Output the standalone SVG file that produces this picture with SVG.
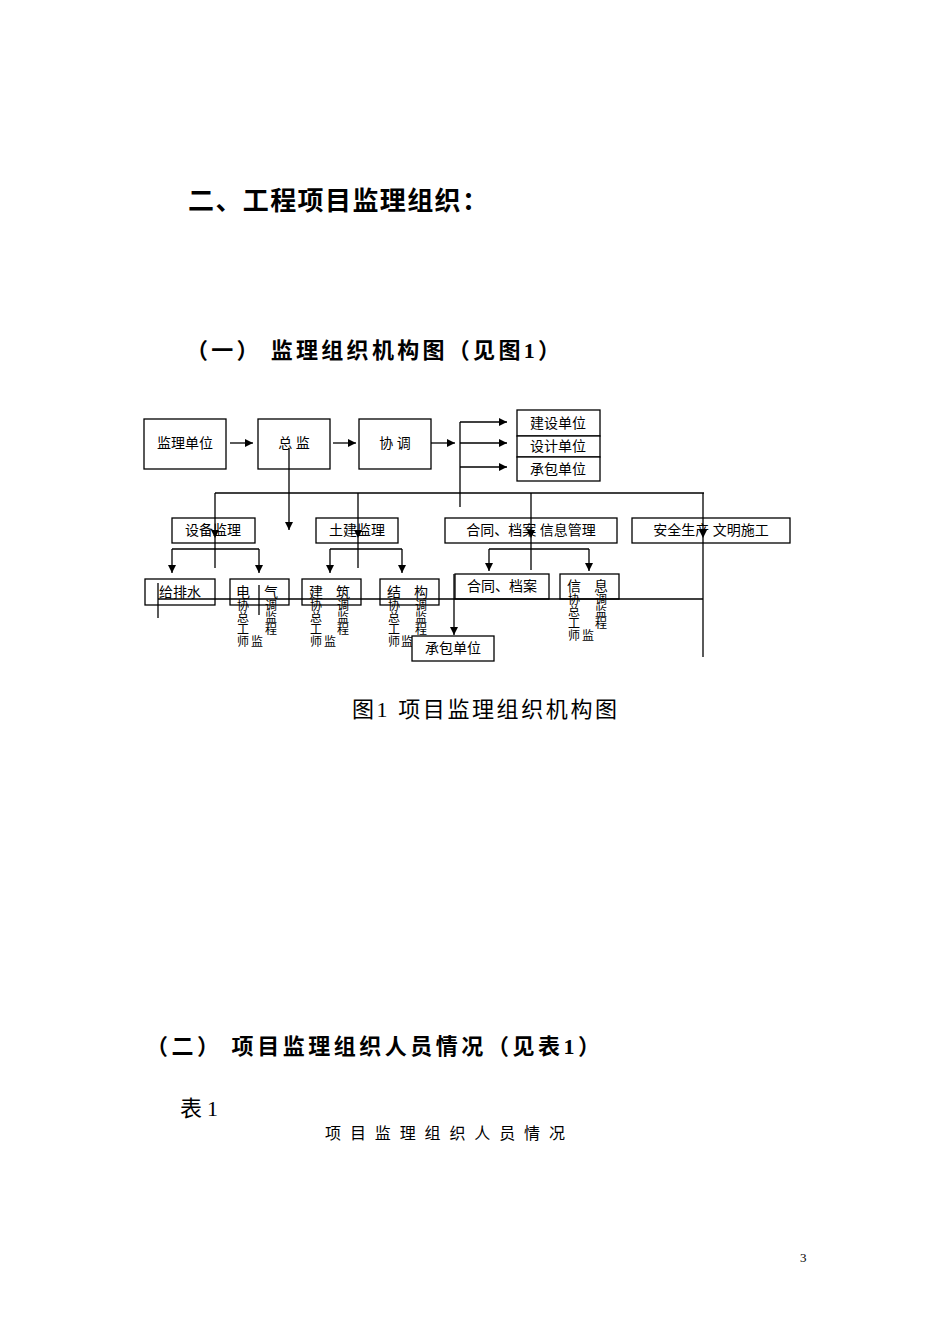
<svg xmlns="http://www.w3.org/2000/svg" width="950" height="1344" viewBox="0 0 950 1344">
<defs>
<marker id="ah" viewBox="0 0 10 10" refX="10" refY="5" markerWidth="8" markerHeight="8" markerUnits="userSpaceOnUse" orient="auto"><path d="M0,0 L10,5 L0,10 z" fill="#000"/></marker>
</defs>
<style>
text{font-family:"Liberation Serif","Noto Sans CJK SC",serif;fill:#000}
.b rect{fill:#fff;stroke:#000;stroke-width:1.3}
.l{font-size:14px}
.v{font-size:12px}
.c line,.c path{stroke:#000;stroke-width:1.3;fill:none}
.a{marker-end:url(#ah)}
.h{font-weight:bold}
</style>
<rect width="950" height="1344" fill="#fff"/>
<text x="188" y="210" font-size="26" class="h" textLength="300" lengthAdjust="spacing">二、工程项目监理组织：</text>
<text x="186" y="358" font-size="22" class="h" textLength="374" lengthAdjust="spacing">（一） 监理组织机构图（见图1）</text>

<g class="b">
<g id="n1"><rect x="144" y="419" width="82" height="50"/><text class="l" x="185" y="448" text-anchor="middle">监理单位</text></g>
<g id="n2"><rect x="258" y="419" width="72" height="50"/><text class="l" x="294" y="448" text-anchor="middle">总 监</text></g>
<g id="n3"><rect x="359" y="419" width="72" height="50"/><text class="l" x="395" y="448" text-anchor="middle">协 调</text></g>
<g id="n4"><rect x="517" y="410" width="83" height="26"/><text class="l" x="558" y="428" text-anchor="middle">建设单位</text></g>
<g id="n5"><rect x="517" y="436" width="83" height="21"/><text class="l" x="558" y="451" text-anchor="middle">设计单位</text></g>
<g id="n6"><rect x="517" y="457" width="83" height="24"/><text class="l" x="558" y="474" text-anchor="middle">承包单位</text></g>
<g id="n7"><rect x="172" y="518" width="83" height="25"/><text class="l" x="213" y="535" text-anchor="middle">设备监理</text></g>
<g id="n8"><rect x="316" y="518" width="82" height="25"/><text class="l" x="357" y="535" text-anchor="middle">土建监理</text></g>
<g id="n9"><rect x="445" y="518" width="172" height="25"/><text class="l" x="531" y="535" text-anchor="middle">合同、档案  信息管理</text></g>
<g id="n10"><rect x="632" y="518" width="158" height="25"/><text class="l" x="711" y="535" text-anchor="middle">安全生产  文明施工</text></g>
<g id="n11"><rect x="145" y="579" width="70" height="26"/><text class="l" x="180" y="597" text-anchor="middle">给排水</text></g>
<g id="n12"><rect x="230" y="579" width="59" height="26"/><text class="l" x="243" y="597" text-anchor="middle">电</text><text class="l" x="271" y="597" text-anchor="middle">气</text>
<text class="v" x="243" y="610" text-anchor="middle">协</text><text class="v" x="243" y="622" text-anchor="middle">总</text><text class="v" x="243" y="634" text-anchor="middle">工</text><text class="v" x="243" y="646" text-anchor="middle">师</text>
<text class="v" x="271" y="610" text-anchor="middle">调</text><text class="v" x="271" y="622" text-anchor="middle">监</text><text class="v" x="271" y="634" text-anchor="middle">程</text><text class="v" x="257" y="646" text-anchor="middle">监</text></g>
<g id="n13"><rect x="302" y="579" width="59" height="26"/><text class="l" x="316" y="597" text-anchor="middle">建</text><text class="l" x="343" y="597" text-anchor="middle">筑</text>
<text class="v" x="316" y="610" text-anchor="middle">协</text><text class="v" x="316" y="622" text-anchor="middle">总</text><text class="v" x="316" y="634" text-anchor="middle">工</text><text class="v" x="316" y="646" text-anchor="middle">师</text>
<text class="v" x="343" y="610" text-anchor="middle">调</text><text class="v" x="343" y="622" text-anchor="middle">监</text><text class="v" x="343" y="634" text-anchor="middle">程</text><text class="v" x="330" y="646" text-anchor="middle">监</text></g>
<g id="n14"><rect x="380" y="579" width="59" height="26"/><text class="l" x="394" y="597" text-anchor="middle">结</text><text class="l" x="421" y="597" text-anchor="middle">构</text>
<text class="v" x="394" y="610" text-anchor="middle">协</text><text class="v" x="394" y="622" text-anchor="middle">总</text><text class="v" x="394" y="634" text-anchor="middle">工</text><text class="v" x="394" y="646" text-anchor="middle">师</text>
<text class="v" x="421" y="610" text-anchor="middle">调</text><text class="v" x="421" y="622" text-anchor="middle">监</text><text class="v" x="421" y="634" text-anchor="middle">程</text><text class="v" x="407" y="646" text-anchor="middle">监</text></g>
<g id="n15"><rect x="455" y="574" width="94" height="25"/><text class="l" x="502" y="591" text-anchor="middle">合同、档案</text></g>
<g id="n16"><rect x="560" y="574" width="59" height="25"/><text class="l" x="574" y="591" text-anchor="middle">信</text><text class="l" x="601" y="591" text-anchor="middle">息</text>
<text class="v" x="574" y="604" text-anchor="middle">协</text><text class="v" x="574" y="616" text-anchor="middle">总</text><text class="v" x="574" y="628" text-anchor="middle">工</text><text class="v" x="574" y="640" text-anchor="middle">师</text>
<text class="v" x="601" y="604" text-anchor="middle">调</text><text class="v" x="601" y="616" text-anchor="middle">监</text><text class="v" x="601" y="628" text-anchor="middle">程</text><text class="v" x="588" y="640" text-anchor="middle">监</text></g>
<g id="n17"><rect x="412" y="636" width="82" height="25"/><text class="l" x="453" y="653" text-anchor="middle">承包单位</text></g>
</g>

<g id="connectors" class="c">
<line class="a" x1="230" y1="443" x2="253" y2="443"/>
<line class="a" x1="333" y1="443" x2="356" y2="443"/>
<line class="a" x1="431" y1="443" x2="455" y2="443"/>
<line x1="460" y1="422" x2="460" y2="507"/>
<line class="a" x1="460" y1="422" x2="507" y2="422"/>
<line class="a" x1="460" y1="443" x2="507" y2="443"/>
<line class="a" x1="460" y1="467" x2="507" y2="467"/>
<line class="a" x1="289" y1="448" x2="289" y2="530"/>
<line x1="215" y1="493" x2="704" y2="493"/>
<line class="a" x1="215" y1="493" x2="215" y2="538"/><line x1="215" y1="538" x2="215" y2="568"/>
<line class="a" x1="358" y1="493" x2="358" y2="538"/><line x1="358" y1="538" x2="358" y2="568"/>
<line class="a" x1="531" y1="493" x2="531" y2="538"/><line x1="531" y1="538" x2="531" y2="570"/>
<line class="a" x1="703" y1="493" x2="703" y2="538"/><line x1="703" y1="538" x2="703" y2="657"/>
<path d="M172,549 H259"/><line class="a" x1="172" y1="549" x2="172" y2="573"/><line class="a" x1="259" y1="549" x2="259" y2="573"/>
<path d="M330,549 H402"/><line class="a" x1="330" y1="549" x2="330" y2="573"/><line class="a" x1="402" y1="549" x2="402" y2="573"/>
<path d="M489,549 H589"/><line class="a" x1="489" y1="549" x2="489" y2="571"/><line class="a" x1="589" y1="549" x2="589" y2="571"/>
<line x1="158" y1="599" x2="703" y2="599"/>
<line x1="158" y1="583" x2="158" y2="618"/>
<line x1="259" y1="585" x2="259" y2="615"/>
<line class="a" x1="454" y1="574" x2="454" y2="635"/>
</g>

<text x="352" y="717" font-size="22" textLength="265" lengthAdjust="spacing">图1  项目监理组织机构图</text>
<text x="146" y="1054" font-size="22" class="h" textLength="454" lengthAdjust="spacing">（二） 项目监理组织人员情况（见表1）</text>
<text x="180" y="1116" font-size="22" textLength="38" lengthAdjust="spacing">表1</text>
<text x="325" y="1139" font-size="16" textLength="240" lengthAdjust="spacing">项 目 监 理 组 织 人 员 情 况</text>
<text x="800" y="1262" font-size="13">3</text>
</svg>
